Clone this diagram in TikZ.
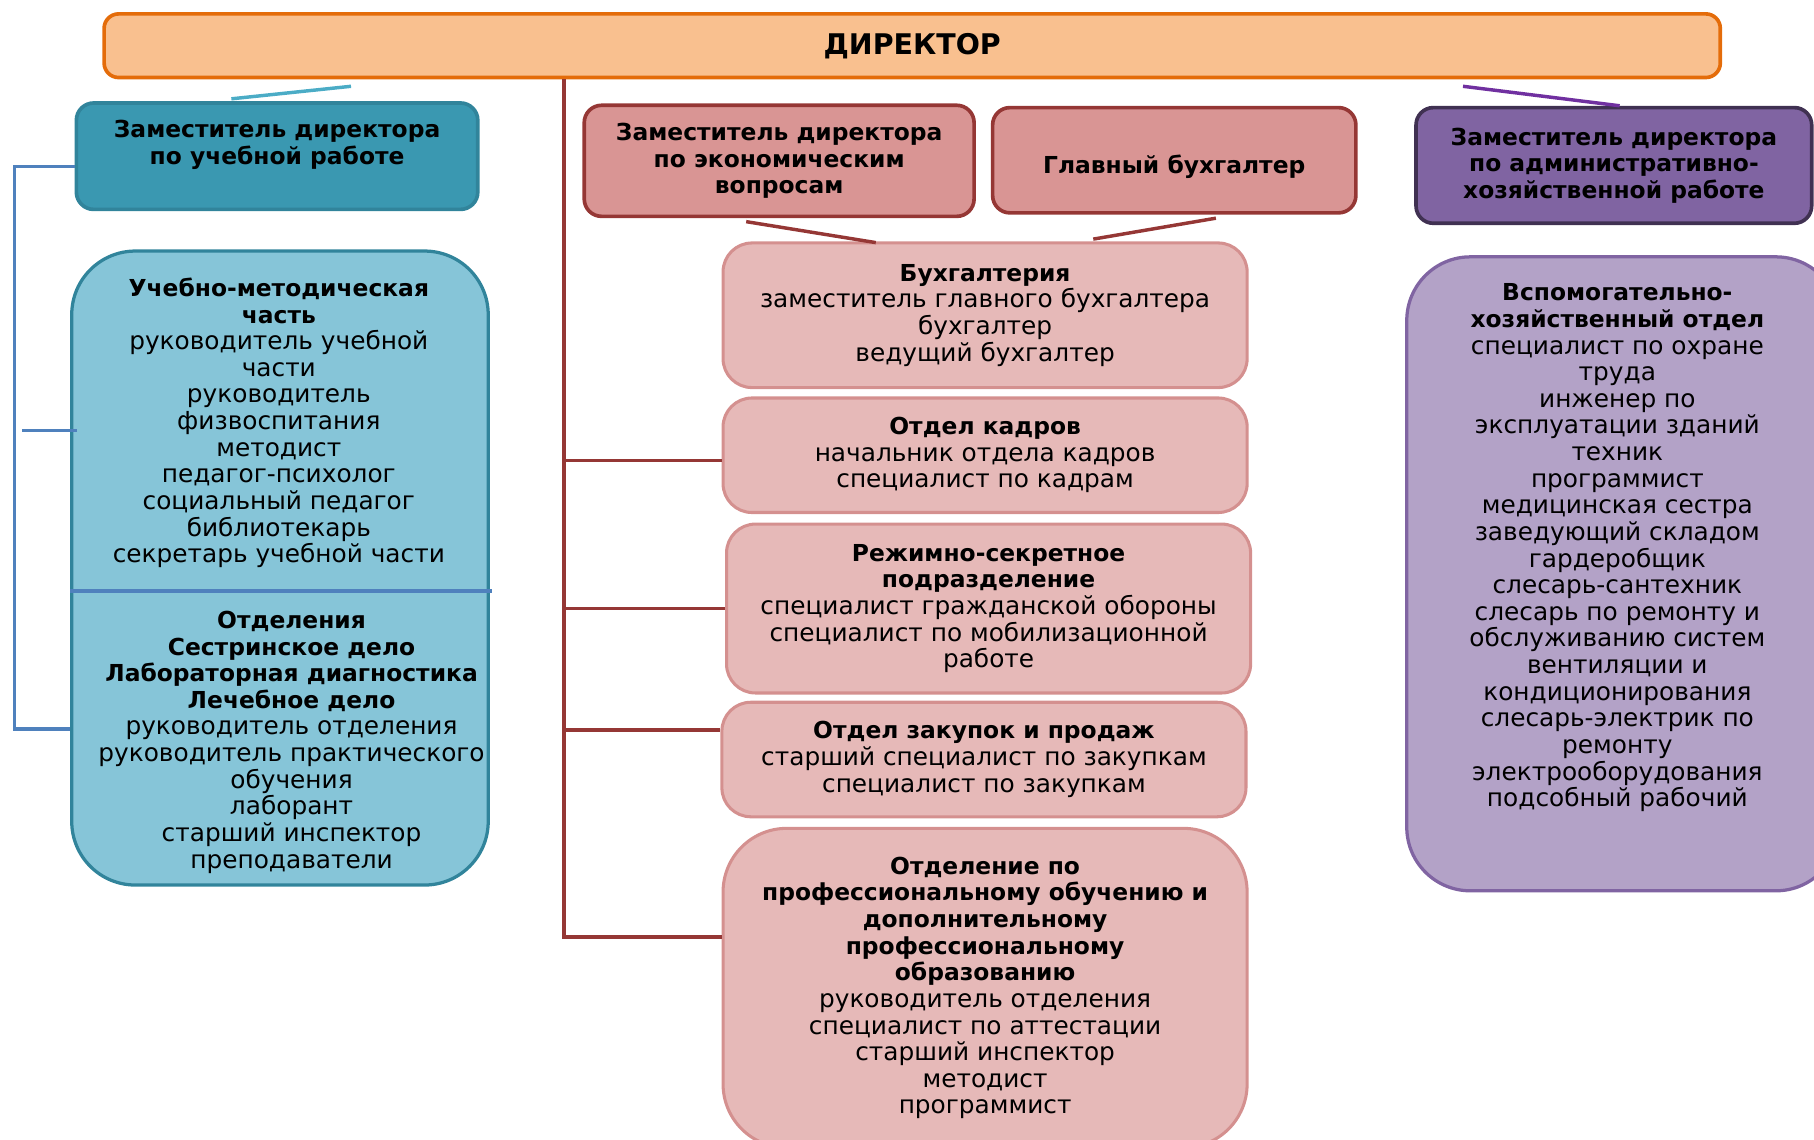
\documentclass[tikz,border=0pt]{standalone}
\usepackage{fontspec}
\setmainfont{DejaVu Sans}
\usetikzlibrary{positioning,calc}
\newlength\upx
\setlength\upx{0.02cm}
\newcommand{\hd}[1]{{\fontsize{11.5}{13.1}\selectfont\bfseries #1}}
\definecolor{dirfill}{HTML}{F9C08F}
\definecolor{dirline}{HTML}{E46C0A}
\definecolor{tealfill}{HTML}{3A98B1}
\definecolor{tealline}{HTML}{31849B}
\definecolor{teallink}{HTML}{4BACC6}
\definecolor{skyfill}{HTML}{86C5D8}
\definecolor{bluelink}{HTML}{4F81BD}
\definecolor{redline}{HTML}{953735}
\definecolor{rosefill}{HTML}{D99594}
\definecolor{pinkfill}{HTML}{E6B9B8}
\definecolor{pinkline}{HTML}{D4908F}
\definecolor{violfill}{HTML}{8064A2}
\definecolor{violline}{HTML}{403152}
\definecolor{viollink}{HTML}{7030A0}
\definecolor{lilacfill}{HTML}{B3A2C7}
\tikzset{
    every node/.style={font=\fontsize{12.2}{13.1}\selectfont, inner sep=0pt},
    dirbox/.style={draw=dirline, fill=dirfill, line width=1.8pt, rounded corners=0.25cm,
        font=\fontsize{14}{17}\selectfont\bfseries},
    headbox/.style={line width=1.8pt, rounded corners=0.3cm, align=center,
        font=\fontsize{11.5}{13.1}\selectfont\bfseries},
    deptbox/.style={draw=pinkline, fill=pinkfill, line width=1.5pt, rounded corners=0.5cm,
        align=center, minimum width=453\upx},
    bigbox/.style={line width=1.6pt, rounded corners=1.1cm, minimum height=548\upx},
    listtext/.style={align=center},
    link/.style={line width=1.7pt}
}

\begin{document}
\begin{tikzpicture}[x=0.02cm, y=-0.02cm]
\clip (0,0) rectangle (1568,985);
% director
\node[dirbox, minimum width=1397\upx, minimum height=55\upx] (dir) at (788.5,39.5) {ДИРЕКТОР};
% deputies
\node[headbox, draw=tealline, fill=tealfill, minimum width=347\upx, minimum height=92\upx] (zamuch) at (239.5,135) {};
\node[listtext, font=\fontsize{11.5}{13.1}\selectfont\bfseries] (zamuchtxt) at (239.5,125) {Заместитель директора\\по учебной работе};
\node[headbox, draw=redline, fill=rosefill, minimum width=337\upx, minimum height=96\upx] (econ) at (673.5,139)
    {Заместитель директора\\по экономическим\\вопросам};
\node[headbox, draw=redline, fill=rosefill, minimum width=314\upx, minimum height=91\upx] (glavbuh) at (1015,138.5)
    {\rule{0pt}{16pt}Главный бухгалтер};
\node[headbox, draw=violline, fill=violfill, minimum width=342\upx, minimum height=100\upx] (zamahr) at (1395,143)
    {Заместитель директора\\по административно-\\хозяйственной работе};
% educational part
\node[bigbox, draw=tealline, fill=skyfill, minimum width=360\upx] (uchmet) at (242,491) {};
\node[listtext] (uchtop) at (241,365.5) {\hd{Учебно-методическая}\\\hd{часть}\\руководитель учебной\\части\\руководитель\\физвоспитания\\методист\\педагог-психолог\\социальный педагог\\библиотекарь\\секретарь учебной части};
\node[listtext] (uchbot) at (252,641.5) {\hd{Отделения}\\\hd{Сестринское дело}\\\hd{Лабораторная диагностика}\\\hd{Лечебное дело}\\руководитель отделения\\руководитель практического\\обучения\\лаборант\\старший инспектор\\преподаватели};
\draw[bluelink, line width=1.7pt] ($(uchmet.west)+(0,20)$) -- ($(uchmet.east)+(2,20)$);
% economic departments
\node[deptbox, minimum height=125\upx] (buh) at (851.5,272.5)
    {\hd{Бухгалтерия}\\заместитель главного бухгалтера\\бухгалтер\\ведущий бухгалтер};
\node[deptbox, minimum height=99\upx] (kadry) at (851.5,393.5)
    {\hd{Отдел кадров}\\начальник отдела кадров\\специалист по кадрам};
\node[deptbox, minimum height=146\upx] (rezhim) at (854.5,526)
    {\hd{Режимно-секретное}\\\hd{подразделение}\\специалист гражданской обороны\\специалист по мобилизационной\\работе};
\node[deptbox, minimum height=99\upx] (zakup) at (850.5,656.5)
    {\hd{Отдел закупок и продаж}\\старший специалист по закупкам\\специалист по закупкам};
\node[deptbox, rounded corners=1.1cm, minimum height=276\upx] (otdprof) at (851.5,854)
    {\hd{Отделение по}\\\hd{профессиональному обучению и}\\\hd{дополнительному}\\\hd{профессиональному}\\\hd{образованию}\\руководитель отделения\\специалист по аттестации\\старший инспектор\\методист\\программист};
% administrative part
\node[bigbox, draw=violfill, fill=lilacfill, minimum width=374\upx] (vspom) at (1403,496) {};
\node[listtext] (vspomtxt) at (1398,473.5) {\hd{Вспомогательно-}\\\hd{хозяйственный отдел}\\специалист по охране\\труда\\инженер по\\эксплуатации зданий\\техник\\программист\\медицинская сестра\\заведующий складом\\гардеробщик\\слесарь-сантехник\\слесарь по ремонту и\\обслуживанию систем\\вентиляции и\\кондиционирования\\слесарь-электрик по\\ремонту\\электрооборудования\\подсобный рабочий};
% connectors
\draw[link, teallink] ($(dir.south west)+(215,6)$) -- ($(zamuch.north)+(-39.5,-2)$);
\draw[link, bluelink] ($(zamuch.west)+(0,9)$) -- ++(-52,0) |- ($(uchmet.west)+(0,139)$);
\draw[link, bluelink] ($(uchmet.west)+(6,-119)$) -- ++(-48,0);
\coordinate (trunk) at ($(dir.south west)+(399,0)$);
\coordinate (kadin) at ($(kadry.west)+(0,4.5)$);
\coordinate (zakin) at ($(zakup.west)+(0,-25.5)$);
\coordinate (otdin) at ($(otdprof.west)+(0,-44)$);
\draw[link, redline] (trunk) -- (trunk |- otdin) -- (otdin);
\draw[link, redline] (trunk |- kadin) -- (kadin);
\draw[link, redline] (trunk |- rezhim.west) -- (rezhim.west);
\draw[link, redline] (trunk |- zakin) -- (zakin);
\draw[link, redline] ($(econ.north)+(-48.5,0)$) -- ($(econ.north)+(-48.5,0)$ |- dir.south);
\draw[link, redline] ($(glavbuh.north)+(36,0)$) -- ($(glavbuh.north)+(36,0)$ |- dir.south);
\draw[link, redline] ($(econ.south)+(-28.5,3)$) -- ($(buh.north)+(-94.5,1)$);
\draw[link, redline] ($(glavbuh.south)+(36,3)$) -- ($(buh.north)+(93.5,-2)$);
\draw[link, viollink] ($(dir.south east)+(-224,6)$) -- ($(zamahr.north)+(5,0)$);
\draw[link, viollink] ($(zamahr.south)+(-23,0)$) -- ($(zamahr.south)+(-23,0)$ |- vspom.north);
\end{tikzpicture}
\end{document}
